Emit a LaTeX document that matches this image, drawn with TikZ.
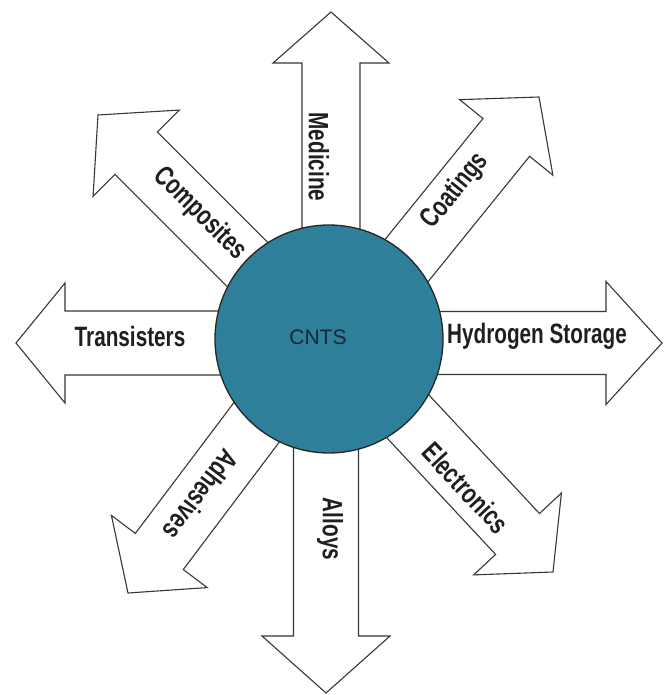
\documentclass[tikz,border=0pt]{standalone}
\usepackage{fontspec}
\setmainfont{Liberation Sans}
\newfontfamily\arrowfont{Liberation Sans}[FakeStretch=0.74]
\definecolor{cntfill}{RGB}{46,127,154}
\definecolor{cnttext}{RGB}{24,38,56}
\definecolor{arrowline}{RGB}{55,55,55}
\newcommand\bigarrow[7]{% tip x, tip y, angle, length, shaft half, head half, head length
  \begin{scope}[shift={(#1,#2)}, rotate=#3]
    \draw[arrowshape] (0,0) -- (-#7,#6) -- (-#7,#5) -- (-#4,#5) -- (-#4,-#5) -- (-#7,-#5) -- (-#7,-#6) -- cycle;
  \end{scope}}
\tikzset{
  arrowshape/.style={draw=arrowline, line width=1.1pt, fill=white, line join=miter},
  arrowlabel/.style={font=\arrowfont\bfseries\fontsize{28}{30}\selectfont, text=black!88, inner sep=0pt},
  hub/.style={circle, draw=black!85, line width=1.3pt, fill=cntfill, minimum size=228pt, inner sep=0pt},
}
\begin{document}
\begin{tikzpicture}[x=1pt,y=-1pt]
\useasboundingbox (0,0) rectangle (664,695);
% arrows
\bigarrow{331}{12}{90}{300}{29}{58}{51}
\bigarrow{539}{97}{51}{290}{30}{60}{52}
\bigarrow{662}{343}{0}{300}{31.5}{61.5}{56}
\bigarrow{553}{572}{-47}{290}{30}{60}{52}
\bigarrow{326}{693}{-90}{320}{32.5}{64}{57}
\bigarrow{128}{593}{-127}{290}{30}{60}{52}
\bigarrow{16}{343}{180}{290}{32}{60}{49}
\bigarrow{98}{115}{135}{300}{30}{61}{54}
% hub
\node[hub] (cnts) at (329,339) {};
\node[font=\fontsize{21}{23}\selectfont, text=cnttext, inner sep=0pt] (cntslabel) at (318,337) {CNTS};
% labels
\node[arrowlabel, rotate=-90] (medicine) at (319,157) {Medicine};
\node[arrowlabel, rotate=51] (coatings) at (455,191) {Coatings};
\node[arrowlabel] (hydrogen) at (537,336) {Hydrogen Storage};
\node[arrowlabel, rotate=-47] (electronics) at (466,488) {Electronics};
\node[arrowlabel, rotate=-90] (alloys) at (330,529) {Alloys};
\node[arrowlabel, rotate=-127] (adhesives) at (201,495) {Adhesives};
\node[arrowlabel] (transisters) at (130,336) {Transisters};
\node[arrowlabel, rotate=-45] (composites) at (200,214) {Composites};
\end{tikzpicture}
\end{document}
